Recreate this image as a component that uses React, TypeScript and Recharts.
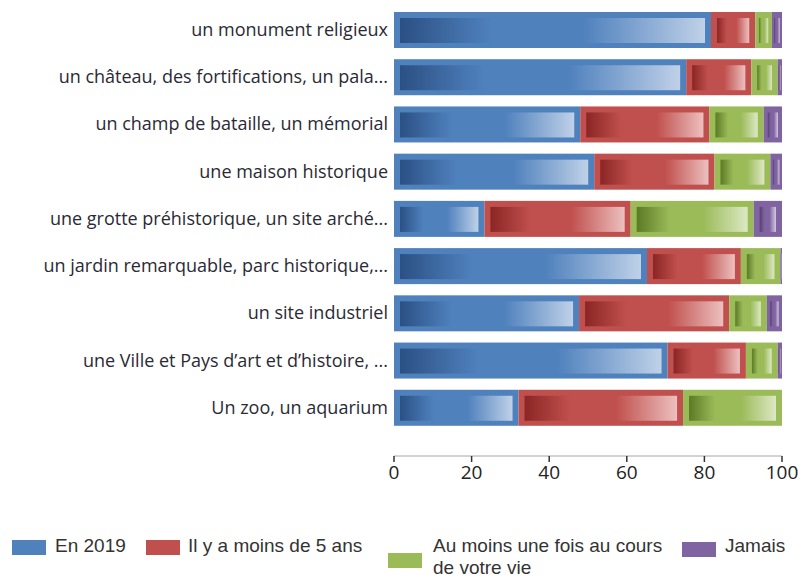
import { BarChart, Bar, XAxis, YAxis } from 'recharts';

const categories = [
  'un monument religieux',
  'un château, des fortifications, un pala...',
  'un champ de bataille, un mémorial',
  'une maison historique',
  'une grotte préhistorique, un site arché...',
  'un jardin remarquable, parc historique,...',
  'un site industriel',
  'une Ville et Pays d’art et d’histoire, ...',
  'Un zoo, un aquarium',
];

const en2019 = [81.7, 75.3, 48.0, 51.6, 23.3, 65.2, 47.7, 70.5, 32.1];
const moins5ans = [11.4, 16.8, 33.3, 31.0, 37.7, 24.2, 38.7, 20.2, 42.4];
const auMoinsUneFois = [4.3, 6.8, 14.0, 14.4, 31.7, 10.2, 9.7, 8.2, 25.5];
const jamais = [2.6, 1.1, 4.7, 3.0, 7.3, 0.4, 3.9, 1.1, 0];

const xTicks = [0, 20, 40, 60, 80, 100];

const data = categories.map((name, i) => ({
  name,
  en2019: en2019[i],
  moins5ans: moins5ans[i],
  auMoins: auMoinsUneFois[i],
  jamais: jamais[i],
}));

interface Palette {
  base: string;
  dark: string;
  light: string;
}

const colors: Record<string, Palette> = {
  en2019: { base: '#4f81bd', dark: '#2b5084', light: '#bfd1e8' },
  moins5ans: { base: '#c0504d', dark: '#8a2624', light: '#ecc0bf' },
  auMoins: { base: '#9bbb59', dark: '#5b7a25', light: '#dce8c4' },
  jamais: { base: '#8064a2', dark: '#55406f', light: '#d3c8e0' },
};

// outer solid block + inner gradient panel, like the office-style bars
const makeShape = (key: string) => (props: any) => {
  const { x, y, width, height, index } = props;
  const c = colors[key];
  if (!width || width <= 0) return <g />;
  const inset = Math.min(6, width * 0.22);
  const id = `grad-${key}-${index}`;
  return (
    <g>
      <defs>
        <linearGradient id={id} x1="0" y1="0" x2="1" y2="0">
          <stop offset="0" stopColor={c.dark} />
          <stop offset="0.3" stopColor={c.base} />
          <stop offset="0.6" stopColor={c.base} />
          <stop offset="1" stopColor={c.light} />
        </linearGradient>
      </defs>
      <rect x={x} y={y} width={width} height={height} fill={c.base} />
      <rect
        x={x + inset}
        y={y + 6}
        width={Math.max(0, width - 2 * inset)}
        height={height - 11}
        fill={`url(#${id})`}
      />
    </g>
  );
};

const legendItems = [
  { key: 'en2019', lines: ['En 2019'], left: 12, top: 540, textLeft: 55 },
  { key: 'moins5ans', lines: ['Il y a moins de 5 ans'], left: 146, top: 540, textLeft: 188 },
  { key: 'auMoins', lines: ['Au moins une fois au cours', 'de votre vie'], left: 388, top: 553, textLeft: 433 },
  { key: 'jamais', lines: ['Jamais'], left: 682, top: 542, textLeft: 725 },
];

const App = () => {
  return (
    <div
      style={{
        position: 'absolute',
        left: 0,
        top: 0,
        width: 805,
        height: 578,
        background: '#fff',
        fontFamily: '"Open Sans", sans-serif',
      }}
    >
      <BarChart
        width={805}
        height={578}
        data={data}
        layout="vertical"
        margin={{ top: 6, right: 23, left: 0, bottom: 92 }}
      >
        <XAxis
          type="number"
          domain={[0, 100]}
          ticks={xTicks}
          interval={0}
          height={30}
          axisLine={{ stroke: '#a6a6a6' }}
          tickLine={{ stroke: '#333', strokeWidth: 1.5 }}
          tickSize={6}
          tickMargin={4}
          tick={{ fill: '#222', fontSize: 19 }}
        />
        <YAxis
          type="category"
          dataKey="name"
          width={394}
          axisLine={false}
          tickLine={false}
          tickSize={0}
          tickMargin={6}
          padding={{ top: 0, bottom: 25 }}
          tick={{ fill: '#2a2a35', fontSize: 18 }}
          interval={0}
        />
        <Bar dataKey="en2019" stackId="a" barSize={36} shape={makeShape('en2019')} isAnimationActive={false} />
        <Bar dataKey="moins5ans" stackId="a" barSize={36} shape={makeShape('moins5ans')} isAnimationActive={false} />
        <Bar dataKey="auMoins" stackId="a" barSize={36} shape={makeShape('auMoins')} isAnimationActive={false} />
        <Bar dataKey="jamais" stackId="a" barSize={36} shape={makeShape('jamais')} isAnimationActive={false} />
      </BarChart>
      {legendItems.map((item) => (
        <div key={item.key}>
          <div
            style={{
              position: 'absolute',
              left: item.left,
              top: item.top,
              width: 34,
              height: 15,
              background: colors[item.key].base,
            }}
          />
          <div
            style={{
              position: 'absolute',
              left: item.textLeft,
              top: 535,
              fontFamily: '"Liberation Sans", Arial, sans-serif',
              fontSize: 19,
              lineHeight: '21.5px',
              color: '#333',
              whiteSpace: 'nowrap',
            }}
          >
            {item.lines.map((l) => (
              <div key={l}>{l}</div>
            ))}
          </div>
        </div>
      ))}
    </div>
  );
};

export default App;
